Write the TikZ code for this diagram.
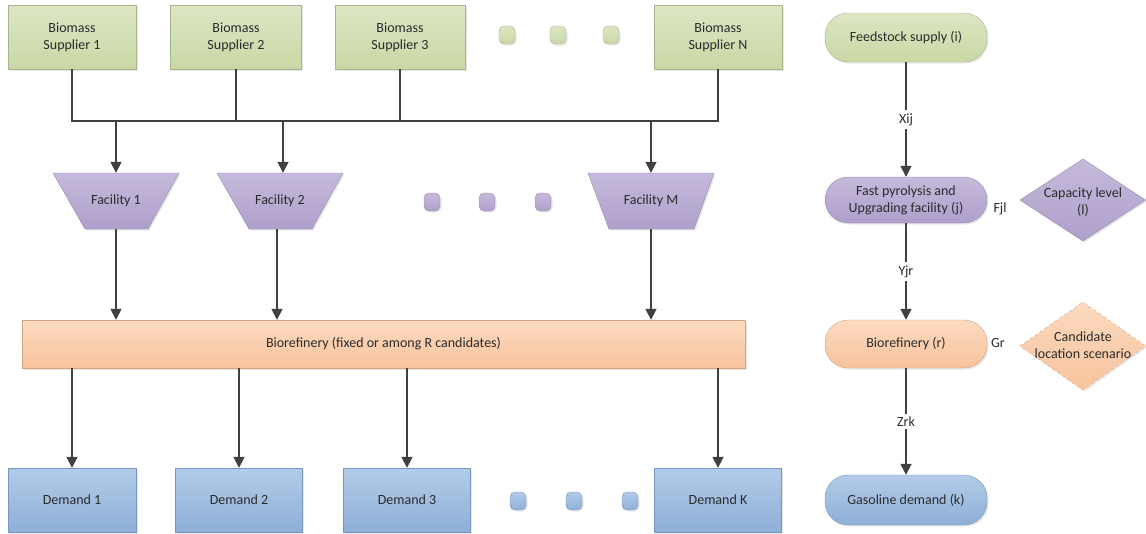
\documentclass[tikz,border=0pt]{standalone}
\usepackage{fontspec}
\setmainfont{Carlito}
\usetikzlibrary{arrows.meta,shadows}
\definecolor{gtop}{HTML}{DCE6C4}\definecolor{gbot}{HTML}{C9D8A5}\definecolor{gline}{HTML}{A8B48C}
\definecolor{ptop}{HTML}{C6BADB}\definecolor{pbot}{HTML}{AE9FCB}\definecolor{pline}{HTML}{988AB3}
\definecolor{otop}{HTML}{FCDAC0}\definecolor{obot}{HTML}{F7C39D}\definecolor{oline}{HTML}{D8A47E}
\definecolor{btop}{HTML}{B3CBE8}\definecolor{bbot}{HTML}{8EAFD7}\definecolor{bline}{HTML}{7897C0}
\definecolor{txt}{HTML}{2B2B2B}\definecolor{wire}{HTML}{404040}
\tikzset{
  base/.style={font=\fontsize{14}{17}\selectfont, text=txt, align=center, inner sep=0pt,
     drop shadow={opacity=0.18, shadow xshift=1.5pt, shadow yshift=-1.5pt}},
  gbox/.style={base, draw=gline, top color=gtop, bottom color=gbot, minimum height=64pt},
  bbox/.style={base, draw=bline, top color=btop, bottom color=bbot, minimum height=64pt},
  gdot/.style={base, draw=gline, top color=gtop, bottom color=gbot, minimum width=16pt, minimum height=18pt, rounded corners=5pt},
  pdot/.style={base, draw=pline, top color=ptop, bottom color=pbot, minimum width=16pt, minimum height=18pt, rounded corners=5pt},
  bdot/.style={base, draw=bline, top color=btop, bottom color=bbot, minimum width=16pt, minimum height=18pt, rounded corners=5pt},
  stad/.style={base, minimum width=162pt, rounded corners=23pt},
  lbl/.style={font=\fontsize{14}{17}\selectfont, text=txt, align=center, inner sep=0pt},
  arr/.style={draw=wire, line width=1.7pt, -{Triangle[width=11pt,length=11pt]}},
  wireline/.style={draw=wire, line width=1.7pt},
}
\begin{document}
\begin{tikzpicture}[x=1pt,y=-1pt]
\useasboundingbox (0,0) rectangle (1146,533);
\fill[white] (0,0) rectangle (1146,533);

% suppliers
\node[gbox, minimum width=128pt] (s1) at (72,37) {Biomass\\Supplier 1};
\node[gbox, minimum width=131pt] (s2) at (236,37) {Biomass\\Supplier 2};
\node[gbox, minimum width=130pt] (s3) at (400,37) {Biomass\\Supplier 3};
\node[gbox, minimum width=128pt] (sN) at (718,37) {Biomass\\Supplier N};
\node[gdot] (gd1) at (507,35) {};
\node[gdot] (gd2) at (558,35) {};
\node[gdot] (gd3) at (611,35) {};

% facilities (trapezoids)
\path[draw=pline, top color=ptop, bottom color=pbot, drop shadow={opacity=0.18, shadow xshift=1.5pt, shadow yshift=-1.5pt}]
  (53,173) -- (179,173) -- (148,229) -- (85,229) -- cycle;
\path[draw=pline, top color=ptop, bottom color=pbot, drop shadow={opacity=0.18, shadow xshift=1.5pt, shadow yshift=-1.5pt}]
  (217,173) -- (343,173) -- (312,229) -- (249,229) -- cycle;
\path[draw=pline, top color=ptop, bottom color=pbot, drop shadow={opacity=0.18, shadow xshift=1.5pt, shadow yshift=-1.5pt}]
  (588,173) -- (714,173) -- (694,229) -- (609,229) -- cycle;
\node[lbl, minimum width=126pt, minimum height=56pt] (f1) at (116,201) {Facility 1};
\node[lbl, minimum width=126pt, minimum height=56pt] (f2) at (280,201) {Facility 2};
\node[lbl, minimum width=126pt, minimum height=56pt] (fM) at (651,201) {Facility M};
\node[pdot] (pd1) at (432,202) {};
\node[pdot] (pd2) at (487,202) {};
\node[pdot] (pd3) at (543,202) {};

% biorefinery bar
\node[base, draw=oline, top color=otop, bottom color=obot, minimum width=723pt, minimum height=48pt] (bar) at (383.5,344) {Biorefinery (fixed or among R candidates)};

% demands
\node[bbox, minimum width=128pt] (d1) at (72,500) {Demand 1};
\node[bbox, minimum width=127pt] (d2) at (239,500) {Demand 2};
\node[bbox, minimum width=127pt] (d3) at (407,500) {Demand 3};
\node[bbox, minimum width=127pt] (dK) at (718,500) {Demand K};
\node[bdot] (bd1) at (518,501) {};
\node[bdot] (bd2) at (574,501) {};
\node[bdot] (bd3) at (630,501) {};

% bus
\coordinate (bus) at (0,121);
\draw[wireline] (s1.south) |- (sN.south |- bus) -- (sN.south);
\draw[wireline] (s2.south) -- (s2.south |- bus);
\draw[wireline] (s3.south) -- (s3.south |- bus);
\draw[arr] (f1.north |- bus) -- (f1.north);
\draw[arr] ([xshift=3pt]f2.north |- bus) -- ([xshift=3pt]f2.north);
\draw[arr] (fM.north |- bus) -- (fM.north);

% facilities to bar
\draw[arr] (f1.south) -- (f1.south |- bar.north);
\draw[arr] ([xshift=-3pt]f2.south) -- ([xshift=-3pt]f2.south |- bar.north);
\draw[arr] (fM.south) -- (fM.south |- bar.north);

% bar to demands
\draw[arr] (d1.north |- bar.south) -- (d1.north);
\draw[arr] (d2.north |- bar.south) -- (d2.north);
\draw[arr] (d3.north |- bar.south) -- (d3.north);
\draw[arr] (dK.north |- bar.south) -- (dK.north);

% right column
\node[stad, draw=gline, top color=gtop, bottom color=gbot, minimum height=49pt] (feed) at (906,37.5) {Feedstock supply (i)};
\node[stad, draw=pline, top color=ptop, bottom color=pbot, minimum height=46pt] (fp) at (906,200) {Fast pyrolysis and\\Upgrading facility (j)};
\node[stad, draw=oline, top color=otop, bottom color=obot, minimum height=48pt] (br) at (906,344) {Biorefinery (r)};
\node[stad, draw=bline, top color=btop, bottom color=bbot, minimum height=50pt] (gas) at (906,500) {Gasoline demand (k)};

\draw[arr] (feed.south) -- node[lbl, fill=white, inner sep=3pt] {Xij} (fp.north);
\draw[arr] (fp.south) -- node[lbl, fill=white, inner sep=3pt] {Yjr} (br.north);
\draw[arr] (br.south) -- node[lbl, fill=white, inner sep=3pt] {Zrk} (gas.north);

% diamonds
\path[draw=pline, top color=ptop, bottom color=pbot, drop shadow={opacity=0.18, shadow xshift=1.5pt, shadow yshift=-1.5pt}]
  (1020,200) -- (1083,159) -- (1145.5,200) -- (1083,241) -- cycle;
\node[lbl] (cap) at (1083,202) {Capacity level\\(l)};
\path[draw=oline, dashed, top color=otop, bottom color=obot, drop shadow={opacity=0.18, shadow xshift=1.5pt, shadow yshift=-1.5pt}]
  (1020,346) -- (1083,302) -- (1145.5,346) -- (1083,390) -- cycle;
\node[lbl] (cand) at (1083,345) {Candidate\\location scenario};

\node[lbl] (fjl) at (1000,209) {Fjl};
\node[lbl] (gr) at (998,343) {Gr};
\end{tikzpicture}
\end{document}
